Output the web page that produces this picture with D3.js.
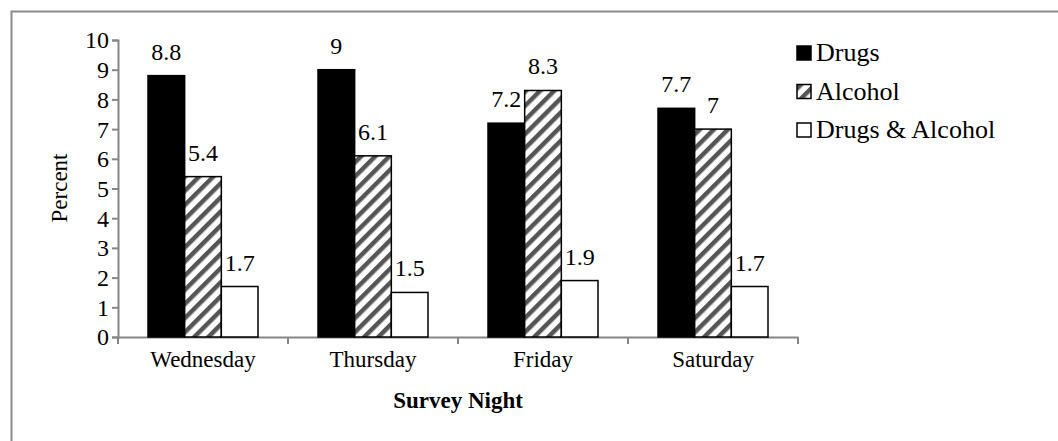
<!DOCTYPE html>
<html>
<head>
<meta charset="utf-8">
<script src="https://cdn.jsdelivr.net/npm/d3@7"></script>
<style>
  body { margin: 0; background: #fff; }
  svg text { font-family: "Liberation Serif", "Times New Roman", serif; fill: #000; }
</style>
</head>
<body>
<div id="canvas"></div>
<script>
var nights = ["Wednesday", "Thursday", "Friday", "Saturday"]
var seriesNames = ["Drugs", "Alcohol", "Drugs & Alcohol"]
var drugs = [8.8, 9, 7.2, 7.7]
var alcohol = [5.4, 6.1, 8.3, 7]
var both = [1.7, 1.5, 1.9, 1.7]
var yTicks = [0, 1, 2, 3, 4, 5, 6, 7, 8, 9, 10]

var serif = "'Liberation Serif', 'Times New Roman', serif"
var width = 1058
var height = 441

var svg = d3.select("#canvas")
    .append("svg")
    .attr("width", width)
    .attr("height", height)
    .attr("font-family", serif)

// hatch for alcohol
var defs = svg.append("defs")
var pat = defs.append("pattern")
    .attr("id", "hatch")
    .attr("patternUnits", "userSpaceOnUse")
    .attr("width", 10)
    .attr("height", 10)
    .attr("patternTransform", "rotate(45)")
pat.append("rect").attr("width", 10).attr("height", 10).attr("fill", "#fff")
pat.append("rect").attr("x", 0).attr("width", 4.5).attr("height", 10).attr("fill", "#555")

// outer frame (right/bottom cut off)
svg.append("path")
    .attr("d", "M11.5,441 V11.5 H1058")
    .attr("fill", "none")
    .attr("stroke", "#8a8a8a")
    .attr("stroke-width", 2)

var x0 = d3.scaleBand().domain(nights).range([118, 798])
var x1 = d3.scaleBand().domain(seriesNames).range([30, x0.bandwidth() - 30])
var y = d3.scaleLinear().domain([0, 10]).range([337, 40])

var rows = nights.map(function (n, i) {
    return { night: n, values: [drugs[i], alcohol[i], both[i]] }
})
var fills = ["#000", "url(#hatch)", "#fff"]

// axes
var yAxis = svg.append("g")
    .attr("transform", "translate(118,0)")
    .call(d3.axisLeft(y).tickValues(yTicks).tickSize(6).tickPadding(3).tickFormat(d3.format("d")))
yAxis.attr("font-family", serif)
yAxis.selectAll("text").style("font-size", "24px").attr("dy", "0.33em")

var xAxis = svg.append("g")
    .attr("transform", "translate(0,337)")
    .call(d3.axisBottom(x0).tickSize(0).tickPadding(14))
xAxis.attr("font-family", serif)
xAxis.selectAll("text").style("font-size", "23px").attr("dy", "0.71em")
xAxis.selectAll(".cat-tick")
    .data(d3.range(nights.length + 1))
    .enter().append("line")
    .attr("x1", function (d) { return 118 + d * x0.step() })
    .attr("x2", function (d) { return 118 + d * x0.step() })
    .attr("y1", 0).attr("y2", 7)
    .attr("stroke", "#868686").attr("stroke-width", 2)

svg.selectAll(".domain, .tick line").attr("stroke", "#868686").attr("stroke-width", 2)

// bars
var groups = svg.selectAll(".grp")
    .data(rows)
    .enter().append("g")
    .attr("class", "grp")
    .attr("transform", function (d) { return "translate(" + x0(d.night) + ",0)" })

groups.selectAll("rect")
    .data(function (d) { return d.values.map(function (v, i) { return { name: seriesNames[i], v: v, i: i } }) })
    .enter().append("rect")
    .attr("x", function (d) { return x1(d.name) })
    .attr("y", function (d) { return y(d.v) })
    .attr("width", x1.bandwidth())
    .attr("height", function (d) { return y(0) - y(d.v) })
    .attr("fill", function (d) { return fills[d.i] })
    .attr("stroke", "#000")
    .attr("stroke-width", 1.5)

groups.selectAll(".lbl")
    .data(function (d) { return d.values.map(function (v, i) { return { name: seriesNames[i], v: v } }) })
    .enter().append("text")
    .attr("class", "lbl")
    .attr("x", function (d) { return x1(d.name) + x1.bandwidth() / 2 })
    .attr("y", function (d) { return y(d.v) - 16 })
    .attr("text-anchor", "middle")
    .attr("font-family", serif)
    .style("font-size", "24px")
    .text(function (d) { return d.v })

// axis titles
svg.append("text")
    .attr("transform", "translate(67,188) rotate(-90)")
    .attr("text-anchor", "middle")
    .style("font-size", "23px")
    .text("Percent")

svg.append("text")
    .attr("x", 458)
    .attr("y", 408)
    .attr("text-anchor", "middle")
    .style("font-size", "23px")
    .style("font-weight", "bold")
    .text("Survey Night")

// legend
var legend = svg.append("g").attr("transform", "translate(797,0)")
var items = legend.selectAll(".item")
    .data(seriesNames)
    .enter().append("g")
    .attr("transform", function (d, i) { return "translate(0," + (61 + i * 38.5) + ")" })
items.append("rect")
    .attr("x", 0).attr("y", -15)
    .attr("width", 14).attr("height", 14)
    .attr("fill", function (d, i) { return i == 1 ? "url(#hatch)" : fills[i] })
    .attr("stroke", "#000").attr("stroke-width", 1.5)
items.append("text")
    .attr("x", 19)
    .attr("y", 0)
    .attr("font-family", serif)
    .style("font-size", "26px")
    .text(function (d) { return d })
</script>
</body>
</html>
